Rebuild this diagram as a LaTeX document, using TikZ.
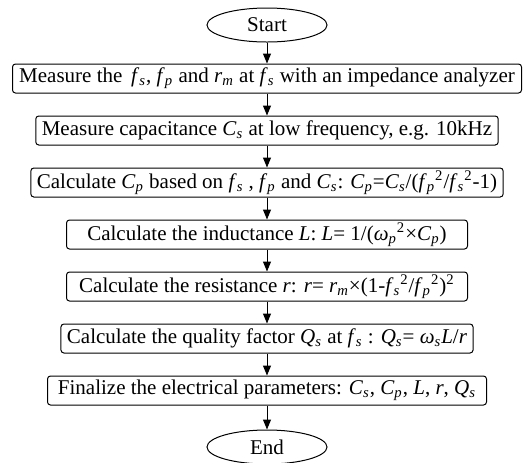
\documentclass[tikz,border=0pt]{standalone}
\usepackage{fontspec}
\setmainfont{Liberation Serif}
\usetikzlibrary{arrows.meta,positioning,shapes.geometric}
\newcommand{\vsub}[2]{\textit{#1}\textsubscript{\textit{#2}}}

\begin{document}
\begin{tikzpicture}[>={Triangle[length=5pt,width=4pt]},font=\fontsize{10.5}{12}\selectfont,node distance=11pt,line width=0.5pt,
    stepbox/.style={draw,rounded corners=1.5pt,minimum height=14.5pt,inner xsep=3pt,inner ysep=1pt},
    term/.style={draw,ellipse,minimum width=60pt,minimum height=17pt,inner sep=1pt}]
    \useasboundingbox (0,0) rectangle (262.5pt,-231pt);
    \node[term] (start) at (133.5pt,-12.5pt) {Start};
    \node[stepbox,minimum width=254.5pt,below=10.5pt of start] (meas) {Measure the \,\vsub{f}{s}, \vsub{f}{p} and \vsub{r}{m} at \vsub{f}{s} with an impedance analyzer};
    \node[stepbox,minimum width=230pt,below=of meas] (cap) {Measure capacitance \vsub{C}{s} at low frequency, e.g. 10kHz};
    \node[stepbox,minimum width=224pt,below=of cap] (cp) {Calculate \vsub{C}{p} based on \vsub{f}{s} , \vsub{f}{p} and \vsub{C}{s}: \vsub{C}{p}=\vsub{C}{s}/(\vsub{f}{p}\textsuperscript{2}/\vsub{f}{s}\textsuperscript{2}-1)};
    \node[stepbox,minimum width=200.5pt,below=of cp] (ind) {Calculate the inductance \textit{L}: \textit{L}= 1/(\vsub{ω}{p}\textsuperscript{2}×\vsub{C}{p})};
    \node[stepbox,minimum width=200.5pt,below=of ind] (res) {Calculate the resistance \textit{r}: \textit{r}= \vsub{r}{m}×(1-\vsub{f}{s}\textsuperscript{2}/\vsub{f}{p}\textsuperscript{2})\textsuperscript{2}};
    \node[stepbox,minimum width=205pt,below=of res] (qual) {Calculate the quality factor \vsub{Q}{s} at \vsub{f}{s} : \vsub{Q}{s}= \vsub{ω}{s}\textit{L}/\textit{r}};
    \node[stepbox,minimum width=219.5pt,below=of qual] (fin) {Finalize the electrical parameters: \vsub{C}{s}, \vsub{C}{p}, \textit{L}, \textit{r}, \vsub{Q}{s}};
    \node[term,below=12pt of fin] (end) {End};
    \draw[->] (start)--(meas);
    \draw[->] (meas)--(cap);
    \draw[->] (cap)--(cp);
    \draw[->] (cp)--(ind);
    \draw[->] (ind)--(res);
    \draw[->] (res)--(qual);
    \draw[->] (qual)--(fin);
    \draw[->] (fin)--(end);
\end{tikzpicture}
\end{document}
